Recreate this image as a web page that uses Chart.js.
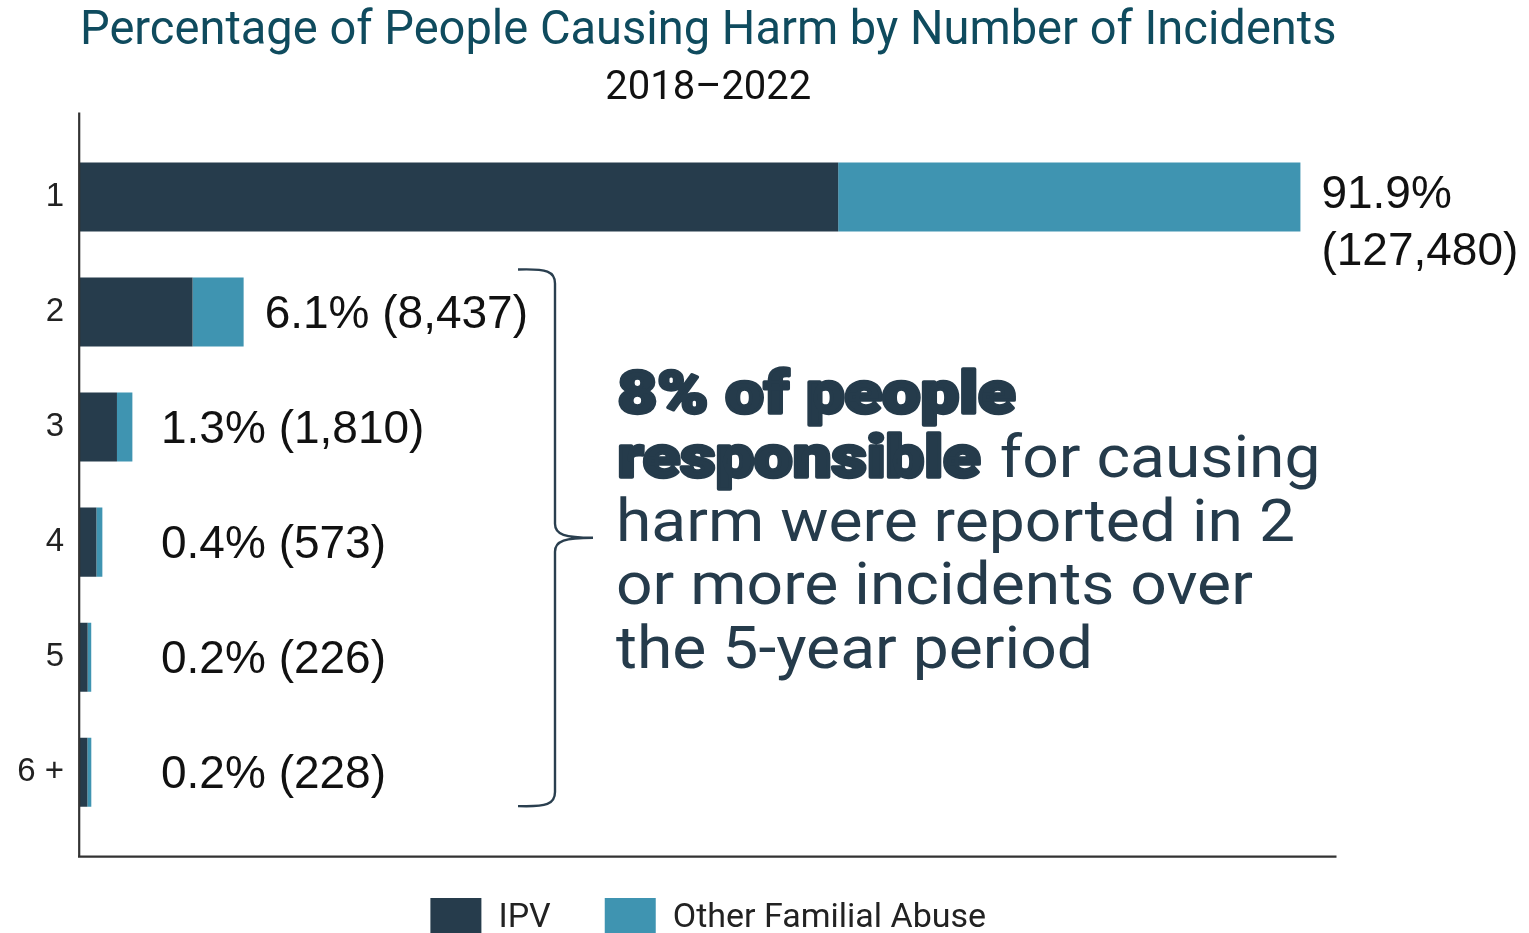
<!DOCTYPE html>
<html>
<head>
<meta charset="utf-8">
<title>Percentage of People Causing Harm by Number of Incidents</title>
<script src="https://cdn.jsdelivr.net/npm/chart.js@4/dist/chart.umd.min.js"></script>
<style>
  html, body { margin: 0; padding: 0; background: #ffffff; overflow: hidden; }
  #wrap { width: 1529px; height: 933px; position: relative; }
</style>
</head>
<body>
<div id="wrap"><canvas id="chart" width="1529" height="933"></canvas></div>
<script>
// ---- data ----
const categories   = ['1', '2', '3', '4', '5', '6 +'];
const seriesNames  = ['IPV', 'Other Familial Abuse'];
const ipvCounts    = [67000, 5090, 1130, 377, 134, 128];
const otherCounts  = [60480, 3347, 680, 196, 92, 100];
const sharePct     = [91.9, 6.1, 1.3, 0.4, 0.2, 0.2];
const titleText    = 'Percentage of People Causing Harm by Number of Incidents';
const subtitleText = '2018–2022';

// ---- styles ----
const COLORS = { ipv: '#263c4c', other: '#3f94b1', axis: '#333333', note: '#253b4b', title: '#0f4b5e', text: '#111111' };
const SANS = 'Roboto, "Liberation Sans", sans-serif';
const ARIAL = '"Liberation Sans", Arial, sans-serif';

// Power scale: lengths grow with value^exponent (compresses the big first bar)
const Linear = Chart.LinearScale || Chart.registry.getScale('linear');
class PowerScale extends Linear {
  _t(v) { const e = this.options.exponent || 1; return Math.sign(v) * Math.pow(Math.abs(v), e); }
  getPixelForValue(value) {
    if (value === null || value === undefined || isNaN(value)) return NaN;
    const d = (this._t(value) - this._t(this.min)) / (this._t(this.max) - this._t(this.min));
    return this.getPixelForDecimal(d);
  }
  getValueForPixel(pixel) {
    const e = this.options.exponent || 1;
    const d = this.getDecimalForPixel(pixel);
    const tv = this._t(this.min) + d * (this._t(this.max) - this._t(this.min));
    return Math.sign(tv) * Math.pow(Math.abs(tv), 1 / e);
  }
}
PowerScale.id = 'power';
PowerScale.defaults = Linear.defaults;
Chart.register(PowerScale);

// Axis lines, value labels, brace and side note
const decorations = {
  id: 'decorations',
  afterDraw(chart) {
    const ctx = chart.ctx;
    const area = chart.chartArea;
    const yScale = chart.scales.y;
    ctx.save();

    // axis lines
    ctx.strokeStyle = COLORS.axis;
    ctx.lineWidth = 2.2;
    ctx.beginPath();
    ctx.moveTo(area.left - 0.8, area.top - 27);
    ctx.lineTo(area.left - 0.8, area.bottom + 28);
    ctx.moveTo(area.left - 2, area.bottom + 27);
    ctx.lineTo(area.right, area.bottom + 27);
    ctx.stroke();

    // value labels
    const topMeta = chart.getDatasetMeta(1);
    ctx.fillStyle = COLORS.text;
    ctx.font = '46px ' + ARIAL;
    ctx.textBaseline = 'middle';
    ctx.textAlign = 'left';
    categories.forEach((c, i) => {
      const bar = topMeta.data[i];
      const total = ipvCounts[i] + otherCounts[i];
      const pct = sharePct[i].toFixed(1) + '%';
      const cnt = '(' + total.toLocaleString('en-US') + ')';
      const x = Math.max(bar.x + 21, area.left + 81);
      const full = pct + ' ' + cnt;
      if (x + ctx.measureText(full).width > chart.width) {
        ctx.fillText(pct, x, bar.y - 2);
        ctx.fillText(cnt, x, bar.y + 55);
      } else {
        ctx.fillText(full, x, bar.y + 3);
      }
    });

    // curly brace spanning categories 2 to 6+
    const half = yScale.getPixelForValue(1) - yScale.getPixelForValue(0);
    const top = yScale.getPixelForValue(1) - half * 0.37;
    const bot = yScale.getPixelForValue(5) + half * 0.295;
    const mid = (top + bot) / 2;
    const bx = 555;
    ctx.strokeStyle = '#2a3f4f';
    ctx.lineWidth = 2.4;
    ctx.beginPath();
    ctx.moveTo(bx - 37, top);
    ctx.bezierCurveTo(bx - 8, top - 1, bx, top + 2, bx, top + 14);
    ctx.lineTo(bx, mid - 14);
    ctx.bezierCurveTo(bx, mid - 3, bx + 10, mid, bx + 38, mid);
    ctx.moveTo(bx + 38, mid);
    ctx.bezierCurveTo(bx + 10, mid, bx, mid + 3, bx, mid + 14);
    ctx.lineTo(bx, bot - 14);
    ctx.bezierCurveTo(bx, bot - 2, bx - 8, bot + 1, bx - 37, bot);
    ctx.stroke();

    // side note
    const regular = '60px ' + SANS;
    const heavy = '900 60px ' + SANS;
    ctx.font = regular;
    const sx = 679 / ctx.measureText('harm were reported in 2').width;
    ctx.font = heavy;
    const sb = 398 / ctx.measureText('8% of people').width;
    const noteLines = [
      [['8% of people', true]],
      [['responsible', true], [' for causing', false]],
      [['harm were reported in 2', false]],
      [['or more incidents over', false]],
      [['the 5-year period', false]]
    ];
    const nx = 616, ny = 413, lh = 63.8;
    ctx.fillStyle = COLORS.note;
    ctx.strokeStyle = COLORS.note;
    ctx.lineJoin = 'round';
    ctx.textBaseline = 'alphabetic';
    noteLines.forEach((runs, li) => {
      let x = nx;
      const y = ny + li * lh;
      runs.forEach(([t, bold]) => {
        ctx.font = bold ? heavy : regular;
        const s = bold ? sb : sx;
        const w = ctx.measureText(t).width * s;
        ctx.save();
        ctx.translate(x + (bold ? 1.5 : 0), y);
        ctx.scale(s, 1);
        ctx.fillText(t, 0, 0);
        if (bold) { ctx.lineWidth = 3.4; ctx.strokeText(t, 0, 0); }
        ctx.restore();
        x += w + (bold ? 5 : 0);
      });
    });
    ctx.restore();
  }
};

Chart.defaults.font.family = SANS;

new Chart(document.getElementById('chart'), {
  type: 'bar',
  data: {
    labels: categories,
    datasets: [
      { label: seriesNames[0], data: ipvCounts, backgroundColor: COLORS.ipv, borderWidth: 0, barPercentage: 0.6, categoryPercentage: 1.0 },
      { label: seriesNames[1], data: otherCounts, backgroundColor: COLORS.other, borderWidth: 0, barPercentage: 0.6, categoryPercentage: 1.0 }
    ]
  },
  options: {
    indexAxis: 'y',
    responsive: false,
    animation: false,
    devicePixelRatio: 1,
    layout: { padding: { left: 0, right: 192.5, top: 0, bottom: -15 } },
    scales: {
      x: {
        type: 'power', exponent: 0.74, stacked: true, min: 0, max: 132600,
        grid: { display: false, drawTicks: false }, border: { display: false }, ticks: { display: false },
        afterFit(s) { s.height = 14.3; }
      },
      y: {
        stacked: true, offset: true,
        grid: { display: false, drawTicks: false }, border: { display: false },
        ticks: { color: '#222222', padding: 16, font: { family: ARIAL, size: 33 } },
        afterFit(s) { s.width = 80; }
      }
    },
    plugins: {
      title: { display: true, fullSize: false, text: titleText, color: COLORS.title, font: { family: SANS, size: 47.5, weight: 'normal' }, padding: { top: 4, bottom: 0 } },
      subtitle: { display: true, fullSize: false, text: subtitleText, color: COLORS.text, font: { family: SANS, size: 40, weight: 'normal' }, padding: { top: 4, bottom: 26.5 } },
      legend: {
        position: 'bottom',
        fullSize: false,
        labels: { boxWidth: 51, boxHeight: 40, padding: 54, color: '#222222', font: { family: SANS, size: 34 } }
      },
      tooltip: { enabled: false }
    }
  },
  plugins: [decorations]
});
</script>
</body>
</html>
